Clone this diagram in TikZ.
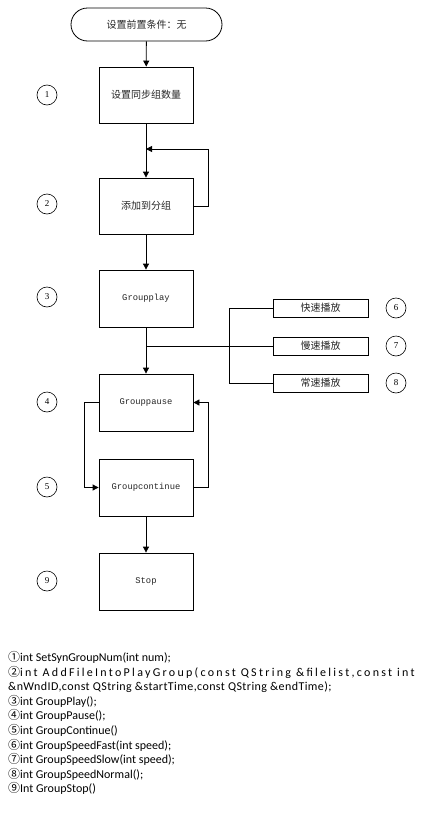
\documentclass[tikz,border=0pt]{standalone}
\usepackage{fontspec}
\setmainfont{Carlito}
\newfontfamily\cjk{Noto Sans CJK SC}
\newfontfamily\boxmono{Liberation Mono}
\newfontfamily\numserif{Liberation Serif}
\usetikzlibrary{arrows.meta}

\begin{document}
\begin{tikzpicture}[x=1pt,y=-1pt,
  proc/.style={draw, line width=0.8pt, minimum width=94pt, minimum height=56pt,
    inner sep=0pt, text=black!85, font=\cjk\fontsize{10}{12}\selectfont},
  latinbox/.style={proc, font=\boxmono\fontsize{8.8}{10}\selectfont},
  speedbox/.style={draw, line width=0.8pt, minimum width=95pt, minimum height=18pt,
    inner sep=0pt, text=black!85, font=\cjk\fontsize{10}{12}\selectfont},
  terminal/.style={draw, line width=0.8pt, rounded corners=16.5pt, minimum width=151pt,
    minimum height=33pt, inner sep=0pt, text=black!85, font=\cjk\fontsize{10}{12}\selectfont},
  num/.style={circle, draw, line width=0.6pt, minimum size=20pt, inner sep=0pt,
    font=\numserif\fontsize{9}{9}\selectfont},
  flow/.style={line width=0.8pt, -{Triangle[length=6pt,width=6pt]}},
  link/.style={line width=0.8pt},
  api/.style={anchor=base west, inner sep=0pt, font=\fontsize{12}{14}\selectfont}
]
\useasboundingbox (0,0) rectangle (421,830);

% main column
\node[terminal] (start) at (146.5,24.5) {设置前置条件：无};
\node[proc] (b1) at (146,95) {设置同步组数量};
\node[proc] (b2) at (146,206) {添加到分组};
\node[latinbox, minimum height=57pt] (b3) at (146,298.5) {Groupplay};
\node[latinbox, minimum height=57pt] (b4) at (146,402.5) {Grouppause};
\node[latinbox, minimum height=57pt] (b5) at (146,487.5) {Groupcontinue};
\node[latinbox, minimum height=57pt] (b9) at (146,581.5) {Stop};

% speed options
\node[speedbox] (b6) at (320.5,308) {快速播放};
\node[speedbox] (b7) at (320.5,346) {慢速播放};
\node[speedbox] (b8) at (320.5,383) {常速播放};

% step numbers
\node[num] (c1) at (47,95) {1};
\node[num] (c2) at (47,204) {2};
\node[num] (c3) at (47,297) {3};
\node[num] (c4) at (47,402) {4};
\node[num] (c5) at (47,487) {5};
\node[num] (c9) at (47,581) {9};
\node[num] (c6) at (396,308) {6};
\node[num] (c7) at (396,346) {7};
\node[num] (c8) at (396,383) {8};

% connectors
\coordinate (loopin) at (146,149);
\coordinate (split) at (146,346);
\draw[flow] (start) -- (b1);
\draw[flow] (b1) -- (b2);
\draw[flow] (b2.east) -- ++(15,0) |- (loopin);
\draw[flow] (b2) -- (b3);
\draw[flow] (b3) -- (b4);
\draw[link] (split) -- (b7.west);
\draw[link] (b6.west) -- ++(-43,0) |- (b8.west);
\draw[flow] (b4.west) -- ++(-14,0) |- (b5.west);
\draw[flow] (b5.east) -- ++(15,0) |- (b4.east);
\draw[flow] (b5) -- (b9);

% interface list
\node[api] (t1) at (8,661.5) {{\cjk ①}int SetSynGroupNum(int num);};
\node[api] (t2) at (8,676) {{\cjk ②}\addfontfeature{LetterSpace=19}int AddFileIntoPlayGroup(const QString \&filelist,const int};
\node[api] (t3) at (8,690.7) {\addfontfeature{LetterSpace=3.4}\&nWndID,const QString \&startTime,const QString \&endTime);};
\node[api] (t4) at (8,705.3) {{\cjk ③}int GroupPlay();};
\node[api] (t5) at (8,719.9) {{\cjk ④}int GroupPause();};
\node[api] (t6) at (8,734.5) {{\cjk ⑤}int GroupContinue()};
\node[api] (t7) at (8,749) {{\cjk ⑥}int GroupSpeedFast(int speed);};
\node[api] (t8) at (8,763.7) {{\cjk ⑦}int GroupSpeedSlow(int speed);};
\node[api] (t9) at (8,778.3) {{\cjk ⑧}int GroupSpeedNormal();};
\node[api] (t10) at (8,792.9) {{\cjk ⑨}Int GroupStop()};
\end{tikzpicture}
\end{document}
